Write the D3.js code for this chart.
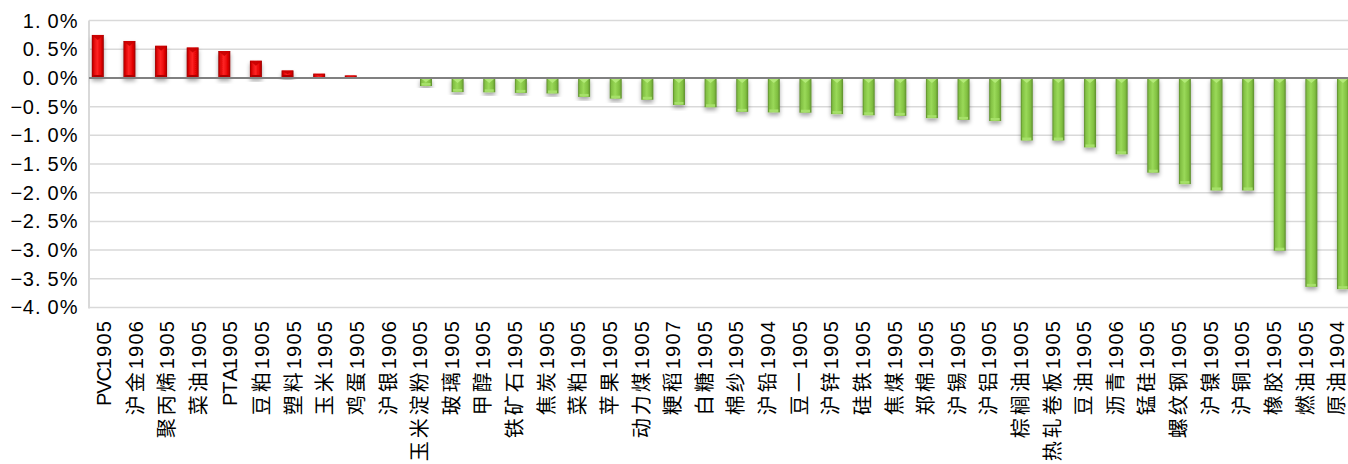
<!DOCTYPE html>
<html>
<head>
<meta charset="utf-8">
<script src="https://cdn.jsdelivr.net/npm/d3@7"></script>
<style>
  body { margin: 0; background: #fff; }
  svg { display: block; }
  text { font-family: "Liberation Sans", "Noto Sans CJK SC", sans-serif; fill: #000; }
</style>
</head>
<body>
<div id="chart"></div>
<script>
// contracts, sorted by change
const categories = [
  "PVC1905", "沪金1906", "聚丙烯1905", "菜油1905", "PTA1905", "豆粕1905", "塑料1905", "玉米1905",
  "鸡蛋1905", "沪银1906", "玉米淀粉1905", "玻璃1905", "甲醇1905", "铁矿石1905", "焦炭1905", "菜粕1905",
  "苹果1905", "动力煤1905", "粳稻1907", "白糖1905", "棉纱1905", "沪铅1904", "豆一1905", "沪锌1905",
  "硅铁1905", "焦煤1905", "郑棉1905", "沪锡1905", "沪铝1905", "棕榈油1905", "热轧卷板1905", "豆油1905",
  "沥青1906", "锰硅1905", "螺纹钢1905", "沪镍1905", "沪铜1905", "橡胶1905", "燃油1905", "原油1904"
];
// change in %
const changes = [
  0.75, 0.645, 0.56, 0.53, 0.47, 0.30, 0.13, 0.075,
  0.045, 0, -0.14, -0.245, -0.25, -0.26, -0.27, -0.33,
  -0.36, -0.38, -0.47, -0.51, -0.59, -0.60, -0.605, -0.63,
  -0.65, -0.66, -0.70, -0.73, -0.75, -1.09, -1.09, -1.21,
  -1.33, -1.65, -1.85, -1.96, -1.96, -3.01, -3.64, -3.68
];
const yTicks = [1, 0.5, 0, -0.5, -1, -1.5, -2, -2.5, -3, -3.5, -4];
const series = ["up", "down"];

const width = 1348, height = 464;
const left = 88, step = 31.62;
const halfW = 12.3, fullW = 23; // half-width / full-width character advance

const svg = d3.select("#chart").append("svg")
  .attr("width", width)
  .attr("height", height);

const defs = svg.append("defs");

function grad(id, stops) {
  const g = defs.append("linearGradient").attr("id", id)
    .attr("x1", 0).attr("x2", 1).attr("y1", 0).attr("y2", 0);
  stops.forEach(s => g.append("stop").attr("offset", s[0]).attr("stop-color", s[1]));
}
grad("gUp", [[0, "#8e0000"], [0.12, "#d40000"], [0.45, "#ff2424"], [0.8, "#e00000"], [1, "#960000"]]);
grad("gDown", [[0, "#5a8a2a"], [0.14, "#82c043"], [0.45, "#9ad959"], [0.8, "#80bf40"], [1, "#5d8d2d"]]);

defs.append("filter").attr("id", "shadow")
  .attr("x", "-50%").attr("y", "-20%").attr("width", "200%").attr("height", "140%")
  .append("feDropShadow")
  .attr("dx", 0).attr("dy", 3).attr("stdDeviation", 2.2)
  .attr("flood-color", "#000").attr("flood-opacity", 0.35);

// place each glyph on a fixed half/full width grid, ending at 0
function monoX(str) {
  const chars = Array.from(str);
  const adv = chars.map(ch => ch.charCodeAt(0) > 0x2e80 ? fullW : halfW);
  const total = d3.sum(adv);
  let pos = -total;
  return chars.map((ch, i) => { const p = pos; pos += adv[i]; return p.toFixed(1); }).join(" ");
}

const x = d3.scaleBand()
  .domain(categories)
  .range([left, left + step * categories.length]);

const x1 = d3.scaleBand()
  .domain(series)
  .range([0, x.bandwidth()])
  .paddingOuter(0.3175);

const y = d3.scaleLinear()
  .domain([-4, 1])
  .range([307.5, 20.6]);

// grid
svg.append("g")
  .selectAll("line")
  .data(yTicks.filter(d => d !== 0))
  .join("line")
  .attr("x1", left + 1).attr("x2", width)
  .attr("y1", d => y(d)).attr("y2", d => y(d))
  .attr("stroke", "#d9d9d9").attr("stroke-width", 1.5);

svg.append("line")
  .attr("x1", left + 1).attr("x2", left + 1)
  .attr("y1", y(1)).attr("y2", y(-4) + 1)
  .attr("stroke", "#d9d9d9").attr("stroke-width", 2);

// y labels
const fmt = v => (v < 0 ? "\u2212" : "") + Math.abs(v).toFixed(1) + "%";
svg.append("g")
  .attr("transform", `translate(${left - 16},0)`)
  .call(d3.axisLeft(y).tickValues(yTicks).tickFormat(fmt).tickSize(0).tickPadding(0))
  .call(g => g.select(".domain").remove())
  .call(g => g.selectAll("text")
    .style("font-family", "Liberation Sans, sans-serif")
    .attr("font-size", 20).attr("fill", "#000")
    .attr("text-anchor", "start")
    .attr("x", function () { return monoX(this.textContent); }));

// bars
const rows = categories.map((c, i) => ({ c, v: changes[i], s: changes[i] >= 0 ? "up" : "down" }))
  .filter(d => d.v !== 0);

const bar = svg.append("g").selectAll("g")
  .data(rows)
  .join("g")
  .attr("transform", d => `translate(${x(d.c) + x1(d.s)},0)`);

bar.append("rect")
  .attr("x", 0)
  .attr("width", x1.bandwidth())
  .attr("y", d => y(Math.max(0, d.v)))
  .attr("height", d => Math.abs(y(d.v) - y(0)))
  .attr("fill", d => d.s === "up" ? "url(#gUp)" : "url(#gDown)")
  .attr("filter", "url(#shadow)");

// bevel at the top end
const bw = x1.bandwidth();
bar.append("path")
  .attr("d", d => {
    const t = y(Math.max(0, d.v));
    const h = Math.min(5, Math.abs(y(d.v) - y(0)) / 2);
    return `M0,${t}L${bw},${t}L${bw / 2},${t + h}Z`;
  })
  .attr("fill", d => d.s === "up" ? "#c80000" : "#b6ec7c")
  .attr("opacity", 0.9);

// bevel at the bottom end
bar.append("rect")
  .attr("x", 1.5)
  .attr("width", bw - 3)
  .attr("y", d => Math.max(y(Math.min(0, d.v)) - 3, y(Math.max(0, d.v)) + 1))
  .attr("height", d => Math.abs(y(d.v) - y(0)) > 5 ? 2.5 : 0)
  .attr("fill", d => d.s === "up" ? "#b00000" : "#a6e06a");

// zero line
svg.append("line")
  .attr("x1", left + 1).attr("x2", width)
  .attr("y1", y(0)).attr("y2", y(0))
  .attr("stroke", "#808080").attr("stroke-width", 2);

// category labels
svg.append("g")
  .selectAll("text")
  .data(categories)
  .join("text")
  .attr("transform", d => `translate(${x(d) + x.bandwidth() / 2},320) rotate(-90)`)
  .attr("text-anchor", "start")
  .attr("x", d => monoX(d))
  .attr("dy", "0.36em")
  .attr("font-size", 20)
  .text(d => d);
</script>
</body>
</html>
